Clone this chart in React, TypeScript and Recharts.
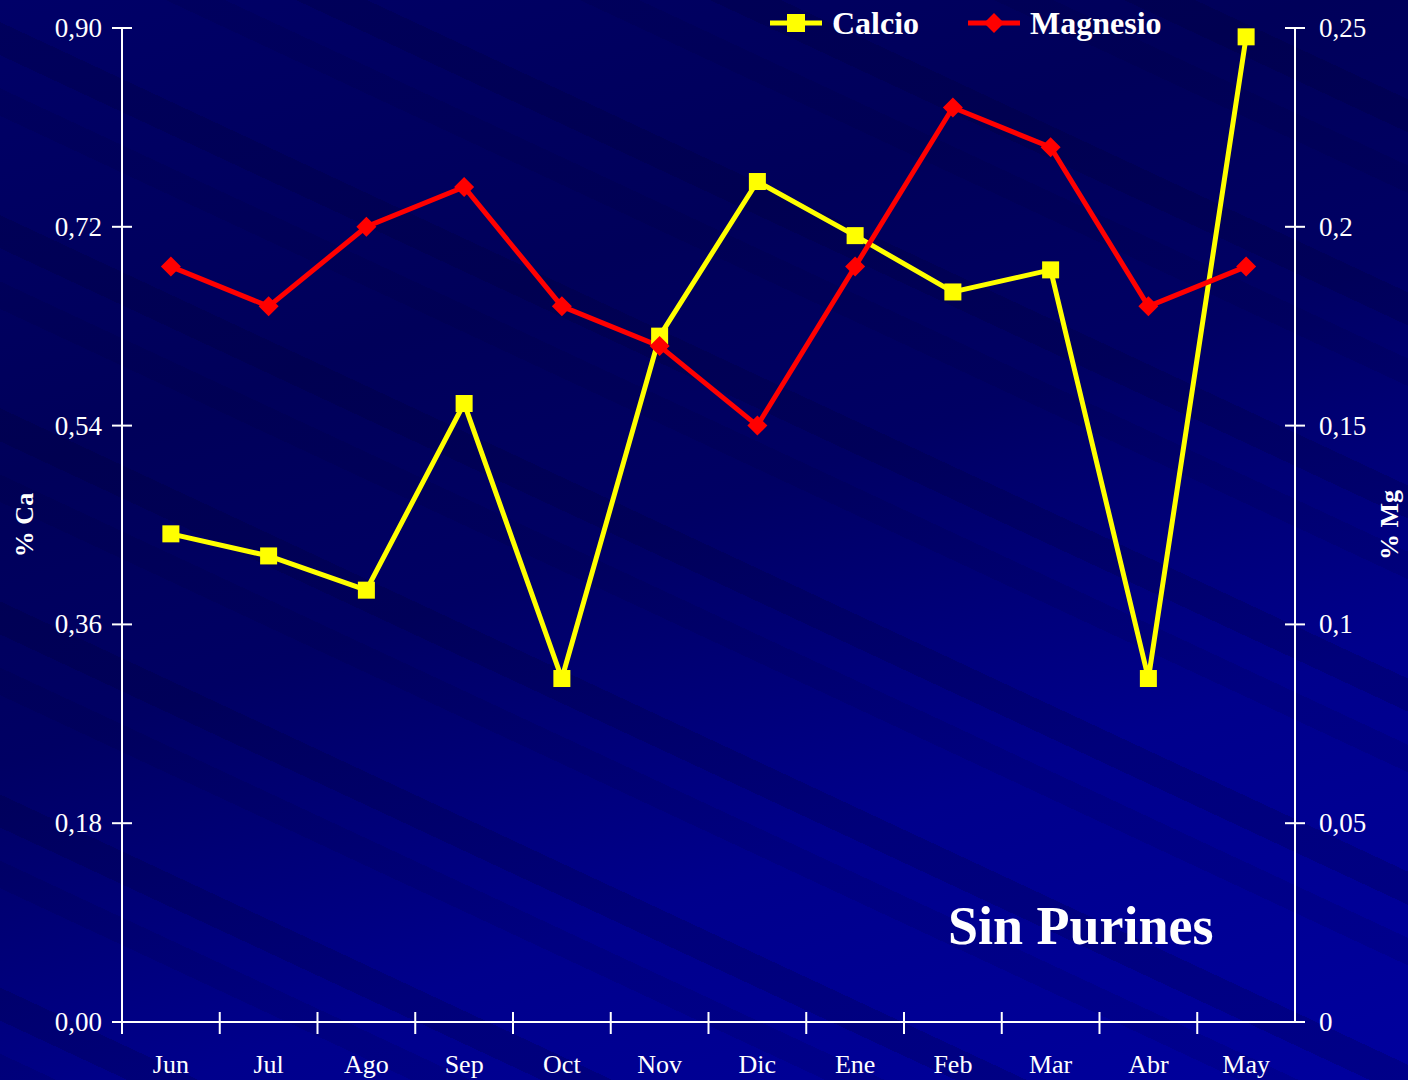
import { LineChart, Line, XAxis, YAxis } from "recharts";

const months = ["Jun", "Jul", "Ago", "Sep", "Oct", "Nov", "Dic", "Ene", "Feb", "Mar", "Abr", "May"];
const calcio = [0.442, 0.422, 0.391, 0.56, 0.311, 0.621, 0.761, 0.712, 0.661, 0.681, 0.311, 0.892];
const magnesio = [0.19, 0.18, 0.2, 0.21, 0.18, 0.17, 0.15, 0.19, 0.23, 0.22, 0.18, 0.19];
const caTicks = [0, 0.18, 0.36, 0.54, 0.72, 0.9];
const mgTicks = [0, 0.05, 0.1, 0.15, 0.2, 0.25];
const mgLabels = ["0", "0,05", "0,1", "0,15", "0,2", "0,25"];

const data = months.map((m, i) => ({ month: m, calcio: calcio[i], magnesio: magnesio[i] }));

const W = 1408;
const H = 1080;
const LEFT = 122;
const RIGHT = 113;
const BAND = (W - LEFT - RIGHT) / months.length;
const FONT = "'Liberation Serif', 'Times New Roman', serif";

const SquareDot = (props: any) => {
  const { cx, cy } = props;
  return <rect x={cx - 8.5} y={cy - 8.5} width={17} height={17} fill="#ffff00" />;
};

const DiamondDot = (props: any) => {
  const { cx, cy } = props;
  return <path d={`M${cx},${cy - 10} L${cx + 10},${cy} L${cx},${cy + 10} L${cx - 10},${cy} Z`} fill="#ff0000" />;
};

const LeftTick = (props: any) => {
  const { x, y, payload } = props;
  return (
    <g>
      <line x1={x - 10} x2={x + 10} y1={y} y2={y} stroke="#fff" strokeWidth={2} />
      <text x={x - 20} y={y + 9} textAnchor="end" fill="#fff" fontSize={27} fontFamily={FONT}>
        {payload.value.toFixed(2).replace(".", ",")}
      </text>
    </g>
  );
};

const RightTick = (props: any) => {
  const { x, y, payload, index } = props;
  return (
    <g>
      <line x1={x - 10} x2={x + 10} y1={y} y2={y} stroke="#fff" strokeWidth={2} />
      <text x={x + 24} y={y + 9} textAnchor="start" fill="#fff" fontSize={27} fontFamily={FONT}>
        {mgLabels[index] ?? String(payload.value)}
      </text>
    </g>
  );
};

const BottomTick = (props: any) => {
  const { x, y, payload } = props;
  const bx = x - BAND / 2;
  return (
    <g>
      <line x1={bx} x2={bx} y1={y - 10} y2={y + 12} stroke="#fff" strokeWidth={2} />
      <text x={x} y={y + 51} textAnchor="middle" fill="#fff" fontSize={26} fontFamily={FONT}>
        {payload.value}
      </text>
    </g>
  );
};

const LegendBox = () => (
  <svg width={440} height={50} style={{ position: "absolute", left: 768, top: 0, overflow: "visible" }}>
    <line x1={2} x2={54} y1={23} y2={23} stroke="#ffff00" strokeWidth={5} />
    <rect x={19} y={14} width={18} height={18} fill="#ffff00" />
    <text x={64} y={34} fill="#fff" fontSize={32} fontWeight="bold" fontFamily={FONT}>Calcio</text>
    <line x1={200} x2={252} y1={23} y2={23} stroke="#ff0000" strokeWidth={5} />
    <path d="M226,13 L236,23 L226,33 L216,23 Z" fill="#ff0000" />
    <text x={262} y={34} fill="#fff" fontSize={32} fontWeight="bold" fontFamily={FONT}>Magnesio</text>
  </svg>
);

export default function App() {
  return (
    <div
      style={{
        position: "absolute",
        top: 0,
        left: 0,
        width: W,
        height: H,
        overflow: "hidden",
        background:
          "repeating-linear-gradient(205deg, rgba(0,0,40,0) 0px, rgba(0,0,40,0) 90px, rgba(0,0,40,0.18) 90px, rgba(0,0,40,0.18) 120px, rgba(0,0,40,0) 120px, rgba(0,0,40,0) 150px, rgba(0,0,40,0.11) 150px, rgba(0,0,40,0.11) 175px), linear-gradient(160deg, #000068 0%, #00005a 30%, #000064 48%, #00008c 72%, #00009e 100%)",
      }}
    >
      <LineChart width={W} height={H} data={data} margin={{ top: 28, right: 0, left: 0, bottom: 0 }}>
        <XAxis
          dataKey="month"
          scale="band"
          height={58}
          stroke="#fff"
          strokeWidth={2}
          tickSize={0}
          tickMargin={0}
          tickLine={false}
          tick={<BottomTick />}
          interval={0}
        />
        <YAxis
          yAxisId="ca"
          width={LEFT}
          domain={[0, 0.9]}
          ticks={caTicks}
          stroke="#fff"
          strokeWidth={2}
          tickSize={0}
          tickMargin={0}
          tickLine={false}
          tick={<LeftTick />}
          interval={0}
          label={{
            value: "% Ca",
            angle: -90,
            position: "insideLeft",
            dx: 19,
            textAnchor: "middle",
            fill: "#fff",
            fontSize: 26,
            fontWeight: "bold",
            fontFamily: FONT,
          }}
        />
        <YAxis
          yAxisId="mg"
          orientation="right"
          width={RIGHT}
          domain={[0, 0.25]}
          ticks={mgTicks}
          stroke="#fff"
          strokeWidth={2}
          tickSize={0}
          tickMargin={0}
          tickLine={false}
          tick={<RightTick />}
          interval={0}
          label={{
            value: "% Mg",
            angle: -90,
            position: "insideRight",
            dx: -14,
            textAnchor: "middle",
            fill: "#fff",
            fontSize: 26,
            fontWeight: "bold",
            fontFamily: FONT,
          }}
        />
        <Line
          yAxisId="ca"
          dataKey="calcio"
          stroke="#ffff00"
          strokeWidth={5}
          dot={<SquareDot />}
          isAnimationActive={false}
        />
        <Line
          yAxisId="mg"
          dataKey="magnesio"
          stroke="#ff0000"
          strokeWidth={5}
          dot={<DiamondDot />}
          isAnimationActive={false}
        />
      </LineChart>
      <LegendBox />
      <div
        style={{
          position: "absolute",
          left: 948,
          top: 896,
          color: "#fff",
          fontFamily: FONT,
          fontWeight: "bold",
          fontSize: 54,
          lineHeight: "60px",
          whiteSpace: "nowrap",
        }}
      >
        Sin Purines
      </div>
    </div>
  );
}
